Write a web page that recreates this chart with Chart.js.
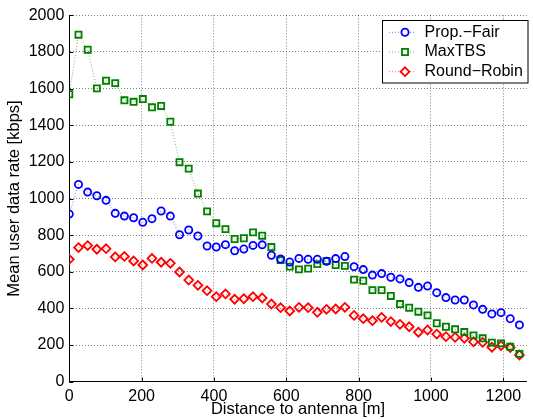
<!DOCTYPE html>
<html lang="en">
<head>
    <meta charset="UTF-8">
    <title>Mean user data rate vs distance</title>
    <script src="https://cdn.jsdelivr.net/npm/chart.js"></script>
    <style>
      body { margin: 0; background: #ffffff; }
      canvas { display: block; }
    </style>
</head>
<body>
  <canvas id="rateChart" width="533" height="419"></canvas>
  <script>
    // distance to antenna [m]
    const distances = [0, 25.4, 50.8, 76.2, 101.6, 127, 152.4, 177.8, 203.2, 228.6,
      254, 279.4, 304.8, 330.2, 355.6, 381, 406.4, 431.8, 457.2, 482.6,
      508, 533.4, 558.8, 584.2, 609.6, 635, 660.4, 685.8, 711.2, 736.6,
      762, 787.4, 812.8, 838.2, 863.6, 889, 914.4, 939.8, 965.2, 990.6,
      1016, 1041.4, 1066.8, 1092.2, 1117.6, 1143, 1168.4, 1193.8, 1219.2, 1244.6];

    // mean user data rate [kbps]
    const propFair = [915, 1077, 1035, 1015, 990, 919, 904, 895, 870, 890,
      932, 904, 802, 828, 795, 741, 735, 748, 715, 724,
      744, 747, 690, 670, 653, 673, 668, 668, 657, 672,
      683, 628, 612, 582, 590, 570, 561, 541, 515, 522,
      486, 459, 446, 446, 419, 395, 370, 377, 344, 310];

    const maxTBS = [1569, 1894, 1812, 1601, 1643, 1630, 1536, 1528, 1543, 1498,
      1505, 1419, 1198, 1163, 1027, 930, 865, 833, 779, 783,
      815, 797, 735, 664, 628, 613, 617, 642, 659, 637,
      632, 557, 551, 500, 500, 468, 424, 404, 382, 362,
      319, 300, 286, 271, 253, 237, 213, 209, 191, 152];

    const roundRobin = [668, 732, 743, 723, 726, 681, 684, 659, 637, 673,
      652, 646, 599, 555, 526, 497, 464, 479, 450, 453,
      464, 457, 424, 404, 386, 406, 404, 379, 395, 397,
      406, 362, 344, 333, 351, 328, 313, 300, 270, 282,
      260, 246, 242, 237, 218, 215, 188, 197, 186, 146];

    const seriesNames = ['Prop.\u2212Fair', 'MaxTBS', 'Round\u2212Robin'];
    const xTicks = [0, 200, 400, 600, 800, 1000, 1200];
    const yTicks = [0, 200, 400, 600, 800, 1000, 1200, 1400, 1600, 1800, 2000];

    const FONT = 'Liberation Sans, Arial, Helvetica, sans-serif';

    function toPoints(values) {
      return values.map((v, i) => ({ x: distances[i], y: v }));
    }

    // legend drawn inside the plot with a framed box, like the original figure
    const boxLegend = {
      id: 'boxLegend',
      afterDraw(chart) {
        const ctx = chart.ctx;
        const x0 = 382.5, y0 = 20.5, w = 145.5, h = 62.5;
        ctx.save();
        ctx.fillStyle = '#ffffff';
        ctx.fillRect(x0, y0, w, h);
        ctx.strokeStyle = '#000000';
        ctx.lineWidth = 1;
        ctx.strokeRect(x0, y0, w, h);
        chart.data.datasets.forEach((ds, i) => {
          const cy = 32.3 + i * 19.7;
          ctx.save();
          ctx.strokeStyle = ds.borderColor;
          ctx.lineWidth = 1;
          ctx.setLineDash([1, 2]);
          ctx.beginPath();
          ctx.moveTo(389, cy);
          ctx.lineTo(414, cy);
          ctx.stroke();
          ctx.restore();
          ctx.save();
          ctx.fillStyle = '#ffffff';
          ctx.strokeStyle = ds.pointBorderColor;
          ctx.lineWidth = ds.pointBorderWidth;
          Chart.helpers.drawPoint(ctx, {
            pointStyle: ds.pointStyle,
            radius: ds.pointRadius,
            borderWidth: ds.pointBorderWidth,
            rotation: 0
          }, 405, cy);
          ctx.restore();
          ctx.fillStyle = '#000000';
          ctx.font = '16px ' + FONT;
          ctx.textBaseline = 'middle';
          ctx.textAlign = 'left';
          ctx.fillText(ds.label, 424.5, cy);
        });
        ctx.restore();
      }
    };

    // small inward tick marks on the left and bottom axes
    const innerTicks = {
      id: 'innerTicks',
      afterDatasetsDraw(chart) {
        const ctx = chart.ctx;
        const a = chart.chartArea;
        const xs = chart.scales.x, ys = chart.scales.y;
        ctx.save();
        ctx.strokeStyle = '#000000';
        ctx.lineWidth = 1;
        ctx.beginPath();
        xTicks.forEach(t => {
          const px = Math.round(xs.getPixelForValue(t)) + 0.5;
          ctx.moveTo(px, a.bottom);
          ctx.lineTo(px, a.bottom - 4);
        });
        yTicks.forEach(t => {
          const py = Math.round(ys.getPixelForValue(t)) + 0.5;
          ctx.moveTo(a.left, py);
          ctx.lineTo(a.left + 4, py);
        });
        ctx.stroke();
        ctx.restore();
      }
    };

    const ctx = document.getElementById('rateChart').getContext('2d');
    const rateChart = new Chart(ctx, {
      type: 'line',
      data: {
        datasets: [
          {
            label: seriesNames[0],
            data: toPoints(propFair),
            borderColor: 'rgba(0, 0, 255, 0.55)',
            pointBorderColor: '#0000ff',
            pointBackgroundColor: 'rgba(0,0,0,0)',
            pointStyle: 'circle',
            pointRadius: 3.6,
            pointBorderWidth: 1.8,
            borderWidth: 1,
            borderDash: [1, 2]
          },
          {
            label: seriesNames[1],
            data: toPoints(maxTBS),
            borderColor: 'rgba(0, 128, 0, 0.55)',
            pointBorderColor: '#008000',
            pointBackgroundColor: 'rgba(0,0,0,0)',
            pointStyle: 'rect',
            pointRadius: 4.3,
            pointBorderWidth: 1.8,
            borderWidth: 1,
            borderDash: [1, 2]
          },
          {
            label: seriesNames[2],
            data: toPoints(roundRobin),
            borderColor: 'rgba(255, 0, 0, 0.55)',
            pointBorderColor: '#ff0000',
            pointBackgroundColor: 'rgba(0,0,0,0)',
            pointStyle: 'rectRot',
            pointRadius: 4.4,
            pointBorderWidth: 1.8,
            borderWidth: 1,
            borderDash: [1, 2]
          }
        ]
      },
      options: {
        responsive: false,
        animation: false,
        layout: { padding: { top: 15.3, right: 0, bottom: 0, left: 0 } },
        plugins: {
          legend: { display: false },
          tooltip: { enabled: false }
        },
        scales: {
          x: {
            type: 'linear',
            min: 0,
            max: 1265,
            afterBuildTicks: scale => {
              scale.ticks = xTicks.map(v => ({ value: v }));
            },
            afterFit: scale => { scale.height = 37.3; },
            grid: {
              color: 'rgba(0, 0, 0, 0.5)',
              drawTicks: false
            },
            border: { display: true, color: '#000000', width: 1, dash: [1, 2] },
            ticks: {
              color: '#000000',
              padding: 5,
              maxRotation: 0,
              callback: v => String(v),
              font: { family: FONT, size: 16 }
            },
            title: {
              display: true,
              text: 'Distance to antenna [m]',
              color: '#000000',
              padding: { top: -1, bottom: 0 },
              font: { family: FONT, size: 16.5 }
            }
          },
          y: {
            type: 'linear',
            min: 0,
            max: 2000,
            afterBuildTicks: scale => {
              scale.ticks = yTicks.map(v => ({ value: v }));
            },
            afterFit: scale => { scale.width = 69.3; },
            grid: {
              color: 'rgba(0, 0, 0, 0.5)',
              drawTicks: false
            },
            border: { display: true, color: '#000000', width: 1, dash: [1, 2] },
            ticks: {
              color: '#000000',
              padding: 5,
              callback: v => String(v),
              font: { family: FONT, size: 16 }
            },
            title: {
              display: true,
              text: 'Mean user data rate [kbps]',
              color: '#000000',
              padding: { top: 5, bottom: 0 },
              font: { family: FONT, size: 16.5 }
            }
          }
        }
      },
      plugins: [innerTicks, boxLegend]
    });
  </script>
</body>
</html>
